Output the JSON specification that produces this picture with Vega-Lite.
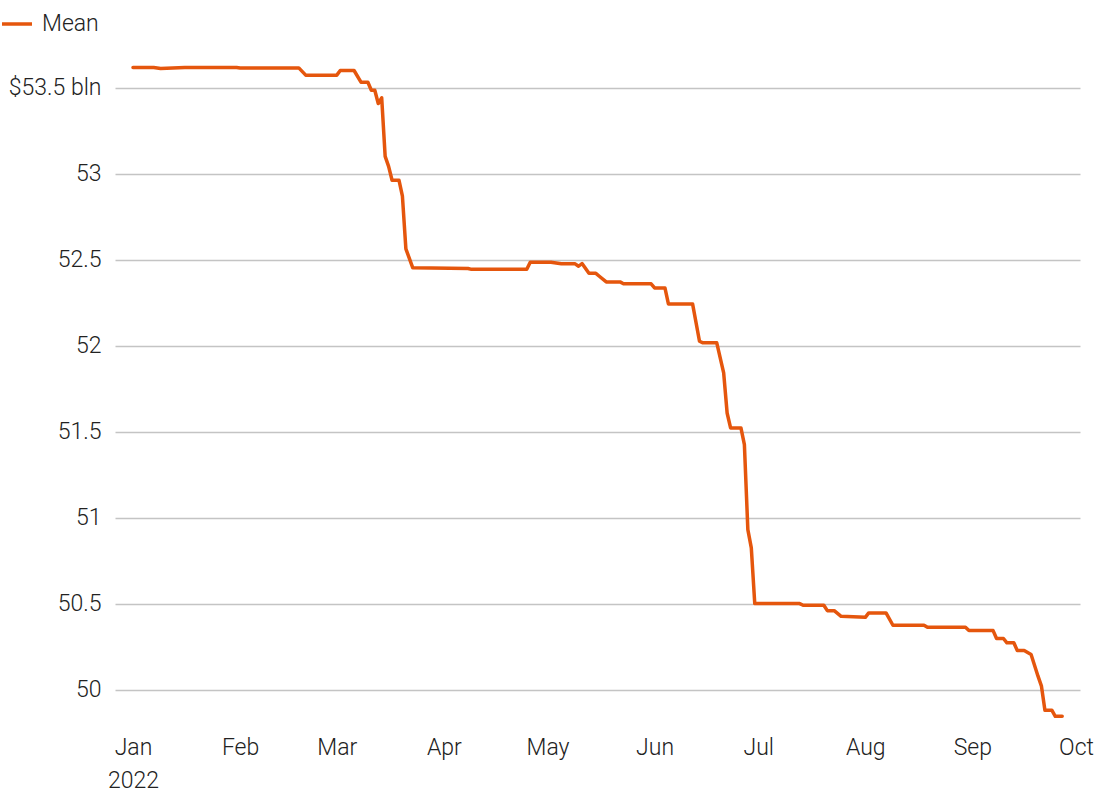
{
  "$schema": "https://vega.github.io/schema/vega-lite/v6.json",
  "autosize": "none",
  "width": 965,
  "height": 664,
  "padding": {"left": 115, "top": 60, "right": 20, "bottom": 76},
  "background": "white",
  "config": {
    "view": {"stroke": null},
    "font": "Roboto",
    "axis": {"labelFont": "Roboto", "labelFontWeight": 300, "labelColor": "#222222", "labelFontSize": 23, "domain": false, "ticks": false, "title": null},
    "legend": {"labelFont": "Roboto", "labelFontWeight": 300, "labelColor": "#222222", "labelFontSize": 23}
  },
  "data": {"values": [
    {"date": "2022-01-01", "value": 53.617, "series": "Mean"},
    {"date": "2022-01-07", "value": 53.617, "series": "Mean"},
    {"date": "2022-01-09", "value": 53.611, "series": "Mean"},
    {"date": "2022-01-16", "value": 53.617, "series": "Mean"},
    {"date": "2022-01-31", "value": 53.617, "series": "Mean"},
    {"date": "2022-02-01", "value": 53.614, "series": "Mean"},
    {"date": "2022-02-18", "value": 53.614, "series": "Mean"},
    {"date": "2022-02-20", "value": 53.572, "series": "Mean"},
    {"date": "2022-03-01", "value": 53.572, "series": "Mean"},
    {"date": "2022-03-02", "value": 53.599, "series": "Mean"},
    {"date": "2022-03-06", "value": 53.599, "series": "Mean"},
    {"date": "2022-03-08", "value": 53.531, "series": "Mean"},
    {"date": "2022-03-10", "value": 53.531, "series": "Mean"},
    {"date": "2022-03-11", "value": 53.484, "series": "Mean"},
    {"date": "2022-03-12", "value": 53.484, "series": "Mean"},
    {"date": "2022-03-13", "value": 53.407, "series": "Mean"},
    {"date": "2022-03-14", "value": 53.44, "series": "Mean"},
    {"date": "2022-03-15", "value": 53.1, "series": "Mean"},
    {"date": "2022-03-16", "value": 53.042, "series": "Mean"},
    {"date": "2022-03-17", "value": 52.961, "series": "Mean"},
    {"date": "2022-03-19", "value": 52.961, "series": "Mean"},
    {"date": "2022-03-20", "value": 52.868, "series": "Mean"},
    {"date": "2022-03-21", "value": 52.562, "series": "Mean"},
    {"date": "2022-03-23", "value": 52.452, "series": "Mean"},
    {"date": "2022-04-08", "value": 52.448, "series": "Mean"},
    {"date": "2022-04-09", "value": 52.443, "series": "Mean"},
    {"date": "2022-04-25", "value": 52.443, "series": "Mean"},
    {"date": "2022-04-26", "value": 52.484, "series": "Mean"},
    {"date": "2022-05-02", "value": 52.484, "series": "Mean"},
    {"date": "2022-05-05", "value": 52.475, "series": "Mean"},
    {"date": "2022-05-09", "value": 52.475, "series": "Mean"},
    {"date": "2022-05-10", "value": 52.461, "series": "Mean"},
    {"date": "2022-05-11", "value": 52.477, "series": "Mean"},
    {"date": "2022-05-13", "value": 52.42, "series": "Mean"},
    {"date": "2022-05-15", "value": 52.42, "series": "Mean"},
    {"date": "2022-05-16", "value": 52.403, "series": "Mean"},
    {"date": "2022-05-18", "value": 52.37, "series": "Mean"},
    {"date": "2022-05-22", "value": 52.37, "series": "Mean"},
    {"date": "2022-05-23", "value": 52.359, "series": "Mean"},
    {"date": "2022-05-31", "value": 52.359, "series": "Mean"},
    {"date": "2022-06-01", "value": 52.335, "series": "Mean"},
    {"date": "2022-06-04", "value": 52.335, "series": "Mean"},
    {"date": "2022-06-05", "value": 52.242, "series": "Mean"},
    {"date": "2022-06-12", "value": 52.242, "series": "Mean"},
    {"date": "2022-06-14", "value": 52.025, "series": "Mean"},
    {"date": "2022-06-15", "value": 52.016, "series": "Mean"},
    {"date": "2022-06-19", "value": 52.016, "series": "Mean"},
    {"date": "2022-06-21", "value": 51.841, "series": "Mean"},
    {"date": "2022-06-22", "value": 51.608, "series": "Mean"},
    {"date": "2022-06-23", "value": 51.521, "series": "Mean"},
    {"date": "2022-06-26", "value": 51.521, "series": "Mean"},
    {"date": "2022-06-27", "value": 51.424, "series": "Mean"},
    {"date": "2022-06-28", "value": 50.93, "series": "Mean"},
    {"date": "2022-06-29", "value": 50.824, "series": "Mean"},
    {"date": "2022-06-30", "value": 50.5, "series": "Mean"},
    {"date": "2022-07-13", "value": 50.5, "series": "Mean"},
    {"date": "2022-07-14", "value": 50.49, "series": "Mean"},
    {"date": "2022-07-20", "value": 50.49, "series": "Mean"},
    {"date": "2022-07-21", "value": 50.459, "series": "Mean"},
    {"date": "2022-07-23", "value": 50.459, "series": "Mean"},
    {"date": "2022-07-25", "value": 50.426, "series": "Mean"},
    {"date": "2022-08-01", "value": 50.42, "series": "Mean"},
    {"date": "2022-08-02", "value": 50.446, "series": "Mean"},
    {"date": "2022-08-07", "value": 50.446, "series": "Mean"},
    {"date": "2022-08-09", "value": 50.374, "series": "Mean"},
    {"date": "2022-08-18", "value": 50.374, "series": "Mean"},
    {"date": "2022-08-19", "value": 50.362, "series": "Mean"},
    {"date": "2022-08-30", "value": 50.362, "series": "Mean"},
    {"date": "2022-08-31", "value": 50.343, "series": "Mean"},
    {"date": "2022-09-07", "value": 50.343, "series": "Mean"},
    {"date": "2022-09-08", "value": 50.297, "series": "Mean"},
    {"date": "2022-09-10", "value": 50.297, "series": "Mean"},
    {"date": "2022-09-11", "value": 50.272, "series": "Mean"},
    {"date": "2022-09-13", "value": 50.272, "series": "Mean"},
    {"date": "2022-09-14", "value": 50.227, "series": "Mean"},
    {"date": "2022-09-16", "value": 50.227, "series": "Mean"},
    {"date": "2022-09-18", "value": 50.204, "series": "Mean"},
    {"date": "2022-09-20", "value": 50.078, "series": "Mean"},
    {"date": "2022-09-21", "value": 50.02, "series": "Mean"},
    {"date": "2022-09-22", "value": 49.88, "series": "Mean"},
    {"date": "2022-09-24", "value": 49.88, "series": "Mean"},
    {"date": "2022-09-25", "value": 49.845, "series": "Mean"},
    {"date": "2022-09-27", "value": 49.845, "series": "Mean"}
  ]},
  "mark": {"type": "line", "strokeWidth": 3.5, "strokeJoin": "round", "strokeCap": "round"},
  "encoding": {
    "x": {
      "field": "date", "type": "temporal",
      "scale": {"domain": ["2021-12-26T19:00:00", "2022-10-02T03:47:00"]},
      "axis": {
        "grid": false,
        "tickCount": {"interval": "month", "step": 1},
        "labelExpr": "month(datum.value) == 0 ? [timeFormat(datum.value, '%b'), timeFormat(datum.value, '%Y')] : timeFormat(datum.value, '%b')",
        "labelPadding": 12,
        "labelLineHeight": 33,
        "labelAlign": "center",
        "labelBaseline": "top",
        "labelFlush": false,
        "labelOverlap": false
      }
    },
    "y": {
      "field": "value", "type": "quantitative",
      "scale": {"domain": [49.8, 53.66], "nice": false, "zero": false},
      "axis": {
        "values": [50, 50.5, 51, 51.5, 52, 52.5, 53, 53.5],
        "grid": true,
        "gridColor": "#c4c4c4",
        "gridWidth": 1.5,
        "labelPadding": 14,
        "labelExpr": "datum.value == 53.5 ? '$53.5 bln' : format(datum.value, '.1~f')"
      }
    },
    "color": {
      "field": "series", "type": "nominal",
      "scale": {"range": ["#e5560d"]},
      "legend": {
        "title": null,
        "orient": "none",
        "legendX": -115,
        "legendY": -53,
        "symbolType": "stroke",
        "symbolSize": 900,
        "symbolStrokeWidth": 3.5,
        "labelOffset": 8
      }
    }
  }
}
